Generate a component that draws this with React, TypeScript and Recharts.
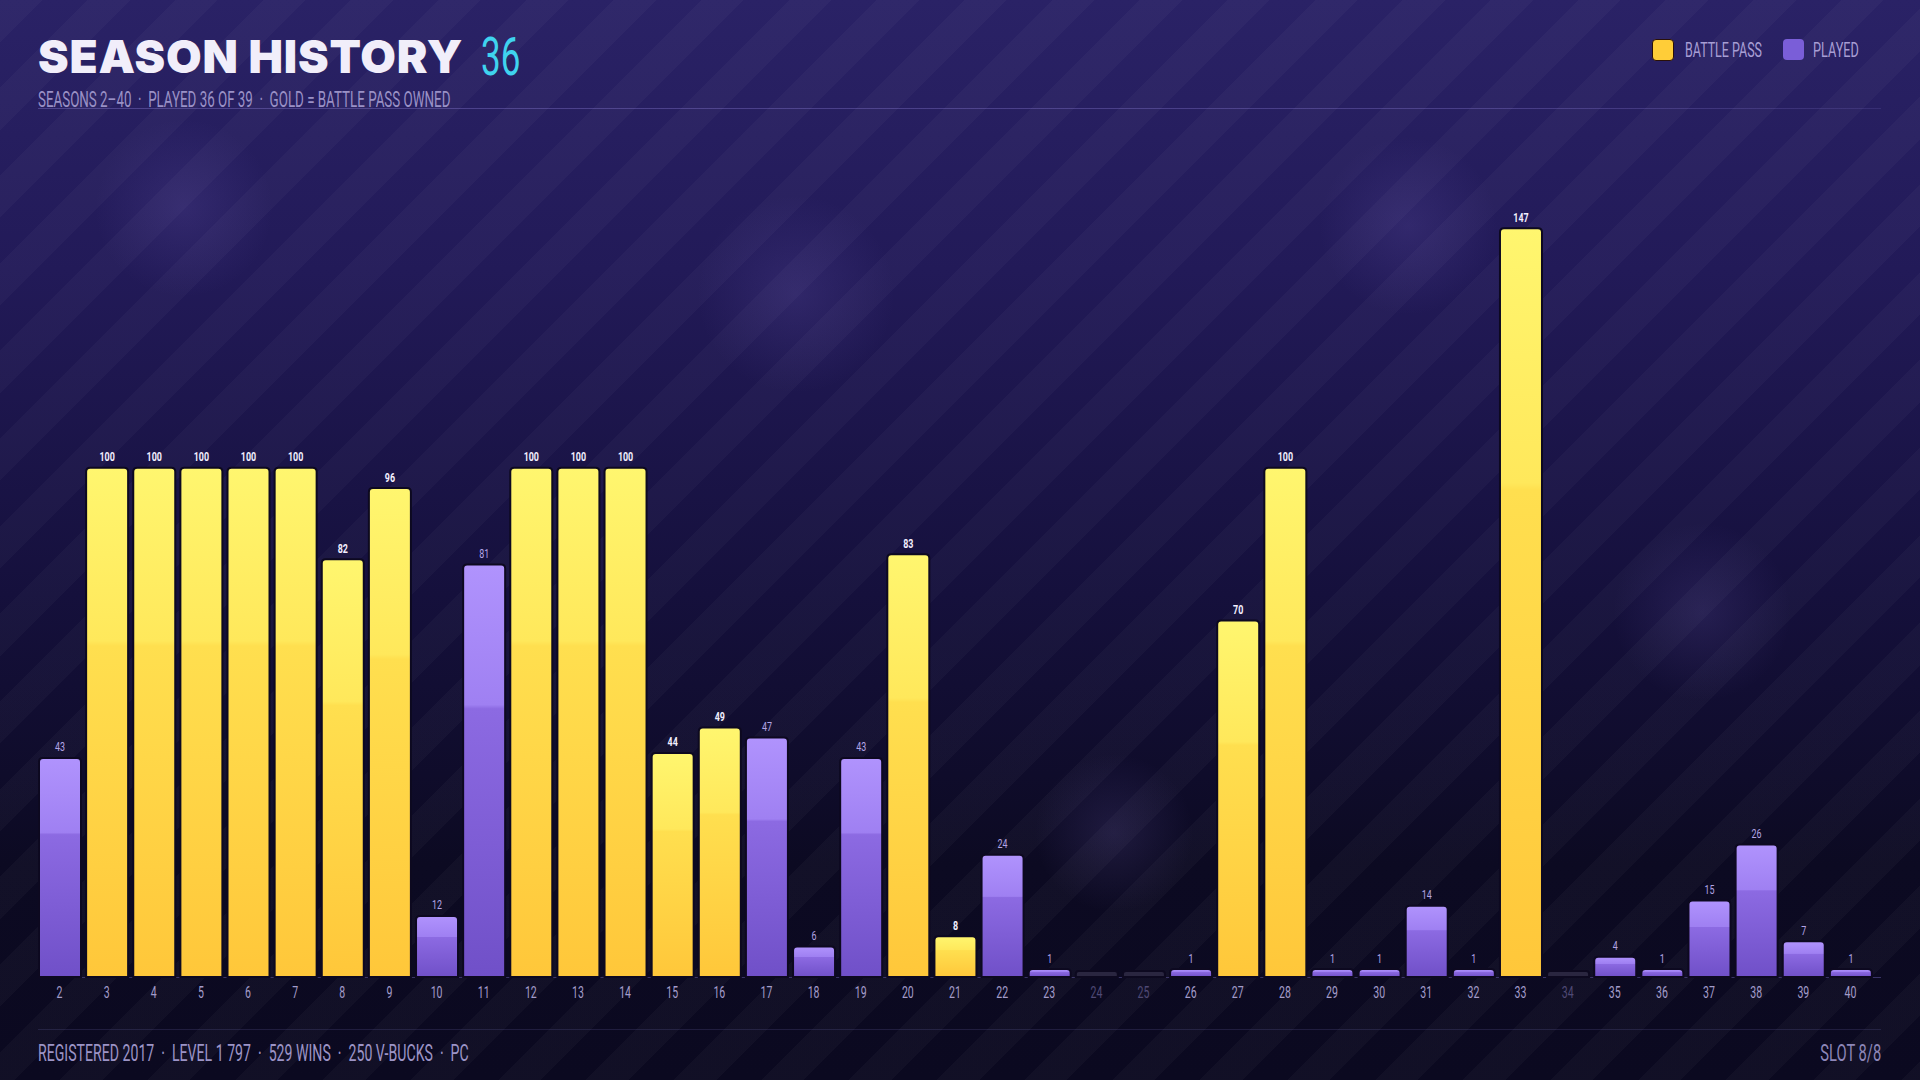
import React from 'react';
import { BarChart, Bar, XAxis, YAxis, LabelList } from 'recharts';

const seasons: number[] = [2,3,4,5,6,7,8,9,10,11,12,13,14,15,16,17,18,19,20,21,22,23,24,25,26,27,28,29,30,31,32,33,34,35,36,37,38,39,40];
const levels: (number | null)[] = [43,100,100,100,100,100,82,96,12,81,100,100,100,44,49,47,6,43,83,8,24,1,null,null,1,70,100,1,1,14,1,147,null,4,1,15,26,7,1];
const battlePass: boolean[] = [false,true,true,true,true,true,true,true,false,false,true,true,true,true,true,false,false,false,true,true,false,false,false,false,false,true,true,false,false,false,false,true,false,false,false,false,false,false,false];

const TITLE = 'SEASON HISTORY';
const TITLE_NUM = '36';
const SUBTITLE = 'SEASONS 2–40  ·  PLAYED 36 OF 39  ·  GOLD = BATTLE PASS OWNED';
const FOOTER_LEFT = 'REGISTERED 2017  ·  LEVEL 1 797  ·  529 WINS  ·  250 V-BUCKS  ·  PC';
const FOOTER_RIGHT = 'SLOT 8/8';
const LEGEND = ['BATTLE PASS', 'PLAYED'];

const data = seasons.map((s, i) => ({
  season: String(s),
  value: levels[i] == null ? 0 : levels[i],
  type: levels[i] == null ? 'none' : battlePass[i] ? 'gold' : 'played',
}));

const COND = "Roboto, 'Noto Sans', sans-serif";
const SX = 0.66;

const Cond = ({ left, top, size, color, children, right, weight, sx }: any) => (
  <div
    style={{
      position: 'absolute',
      left,
      right,
      top,
      fontFamily: COND,
      fontSize: size,
      lineHeight: `${size}px`,
      color,
      fontWeight: weight || 400,
      whiteSpace: 'pre',
      transform: `scaleX(${sx || SX})`,
      transformOrigin: right != null ? 'right center' : 'left center',
    }}
  >
    {children}
  </div>
);

const BarShape = (props: any) => {
  const { x, y, width, height, payload } = props;
  const base = y + height;
  let h = height;
  let fill = 'url(#goldGrad)';
  if (payload.type === 'none') {
    h = 6;
    fill = '#2a2640';
  } else if (payload.type === 'played') {
    fill = 'url(#purpleGrad)';
  }
  const top = base - h;
  const r = Math.min(4, h / 2);
  const d = `M${x},${base} L${x},${top + r} Q${x},${top} ${x + r},${top} L${x + width - r},${top} Q${x + width},${top} ${x + width},${top + r} L${x + width},${base} Z`;
  return <path d={d} fill={fill} stroke="#0d0920" strokeWidth={2} />;
};

const BarLabel = (props: any) => {
  const { x, y, width, index } = props;
  const row = data[index];
  if (!row || row.type === 'none') return null;
  const gold = row.type === 'gold';
  return (
    <text
      transform={`translate(${x + width / 2}, ${y - 6.5}) scale(${SX}, 1)`}
      x={0}
      y={0}
      textAnchor="middle"
      fontFamily={COND}
      fontSize={13.5}
      fontWeight={gold ? 700 : 400}
      fill={gold ? '#f3efff' : '#b3a5e6'}
    >
      {row.value}
    </text>
  );
};

const XTick = (props: any) => {
  const { x, y, payload, index } = props;
  const row = data[index];
  const dim = row && row.type === 'none';
  return (
    <text
      transform={`translate(${x}, ${y + 13}) scale(${SX}, 1)`}
      x={0}
      y={0}
      textAnchor="middle"
      fontFamily={COND}
      fontSize={16}
      fill={dim ? '#4f4975' : '#a39cca'}
    >
      {payload.value}
    </text>
  );
};

const blobs = [
  { x: 184, y: 208, r: 90 },
  { x: 796, y: 294, r: 100 },
  { x: 1408, y: 226, r: 90 },
  { x: 1702, y: 612, r: 90 },
  { x: 1114, y: 833, r: 80 },
];

export default function App() {
  return (
    <div
      style={{
        position: 'absolute',
        left: 0,
        top: 0,
        width: 1920,
        height: 1080,
        overflow: 'hidden',
        background: 'linear-gradient(180deg, #2a2266 0%, #221a58 25%, #15103c 55%, #0c0a22 80%, #0b0920 100%)',
      }}
    >
      <div
        style={{
          position: 'absolute',
          inset: 0,
          background:
            'repeating-linear-gradient(135deg, rgba(255,255,255,0.026) 0px, rgba(255,255,255,0.026) 30px, rgba(255,255,255,0) 30px, rgba(255,255,255,0) 62px)',
        }}
      />
      {blobs.map((b, i) => (
        <div
          key={i}
          style={{
            position: 'absolute',
            left: b.x - b.r,
            top: b.y - b.r,
            width: b.r * 2,
            height: b.r * 2,
            borderRadius: '50%',
            background: 'radial-gradient(circle, rgba(140,120,220,0.14) 0%, rgba(140,120,220,0) 70%)',
          }}
        />
      ))}

      <div
        style={{
          position: 'absolute',
          left: 38,
          top: 28,
          fontFamily: "Inter, 'Lato', sans-serif",
          fontWeight: 900,
          fontSize: 46,
          lineHeight: '56px',
          color: '#f1eefa',
          letterSpacing: 0.8,
          whiteSpace: 'nowrap',
        }}
      >
        {TITLE}
      </div>
      <Cond left={481} top={31} size={53} color="#3fd3ef">{TITLE_NUM}</Cond>

      <Cond left={38} top={89} size={22} color="#9a91c6" sx={0.607}>{SUBTITLE}</Cond>

      <div
        style={{
          position: 'absolute',
          left: 38,
          top: 108,
          width: 1843,
          height: 1,
          background: 'linear-gradient(90deg, rgba(150,135,225,0.35), rgba(150,135,225,0.3) 80%, rgba(150,135,225,0.15))',
        }}
      />

      <div style={{ position: 'absolute', left: 1652, top: 39, width: 20, height: 20, borderRadius: 4, background: '#ffcd38', border: '1px solid #2a1008' }} />
      <Cond left={1685} top={40.5} size={19.5} color="#a79ed4" sx={0.64}>{LEGEND[0]}</Cond>
      <div style={{ position: 'absolute', left: 1783, top: 39, width: 21, height: 21, borderRadius: 4, background: '#7a5ed8' }} />
      <Cond left={1813} top={40.5} size={19.5} color="#a79ed4" sx={0.65}>{LEGEND[1]}</Cond>

      <div
        style={{
          position: 'absolute',
          left: 38,
          top: 977,
          width: 1843,
          height: 1,
          background: 'rgba(95,85,160,0.55)',
        }}
      />

      <div style={{ position: 'absolute', left: 0, top: 0 }}>
        <BarChart
          width={1920}
          height={1080}
          data={data}
          margin={{ top: 162, right: 46, left: 36, bottom: 73 }}
          barSize={42}
        >
          <defs>
            <linearGradient id="goldGrad" x1="0" y1="0" x2="0" y2="1">
              <stop offset="0%" stopColor="#fff66f" />
              <stop offset="34%" stopColor="#ffe85b" />
              <stop offset="35%" stopColor="#ffdf4f" />
              <stop offset="100%" stopColor="#ffc73a" />
            </linearGradient>
            <linearGradient id="purpleGrad" x1="0" y1="0" x2="0" y2="1">
              <stop offset="0%" stopColor="#b093fd" />
              <stop offset="34%" stopColor="#9f80f2" />
              <stop offset="35%" stopColor="#8c6ae2" />
              <stop offset="100%" stopColor="#7050c8" />
            </linearGradient>
          </defs>
          <XAxis
            dataKey="season"
            interval={0}
            height={30}
            tickLine={false}
            axisLine={false}
            tick={<XTick />}
          />
          <YAxis hide domain={[0, 160]} />
          <Bar dataKey="value" isAnimationActive={false} minPointSize={8} shape={<BarShape />}>
            <LabelList dataKey="value" content={<BarLabel />} />
          </Bar>
        </BarChart>
      </div>

      <div
        style={{
          position: 'absolute',
          left: 38,
          top: 1029,
          width: 1843,
          height: 1,
          background: 'rgba(130,120,200,0.18)',
        }}
      />
      <Cond left={38} top={1042} size={23} color="#9c94c6" sx={0.614}>{FOOTER_LEFT}</Cond>
      <Cond right={39} top={1042} size={23} color="#8d86b8" sx={0.64}>{FOOTER_RIGHT}</Cond>
    </div>
  );
}
